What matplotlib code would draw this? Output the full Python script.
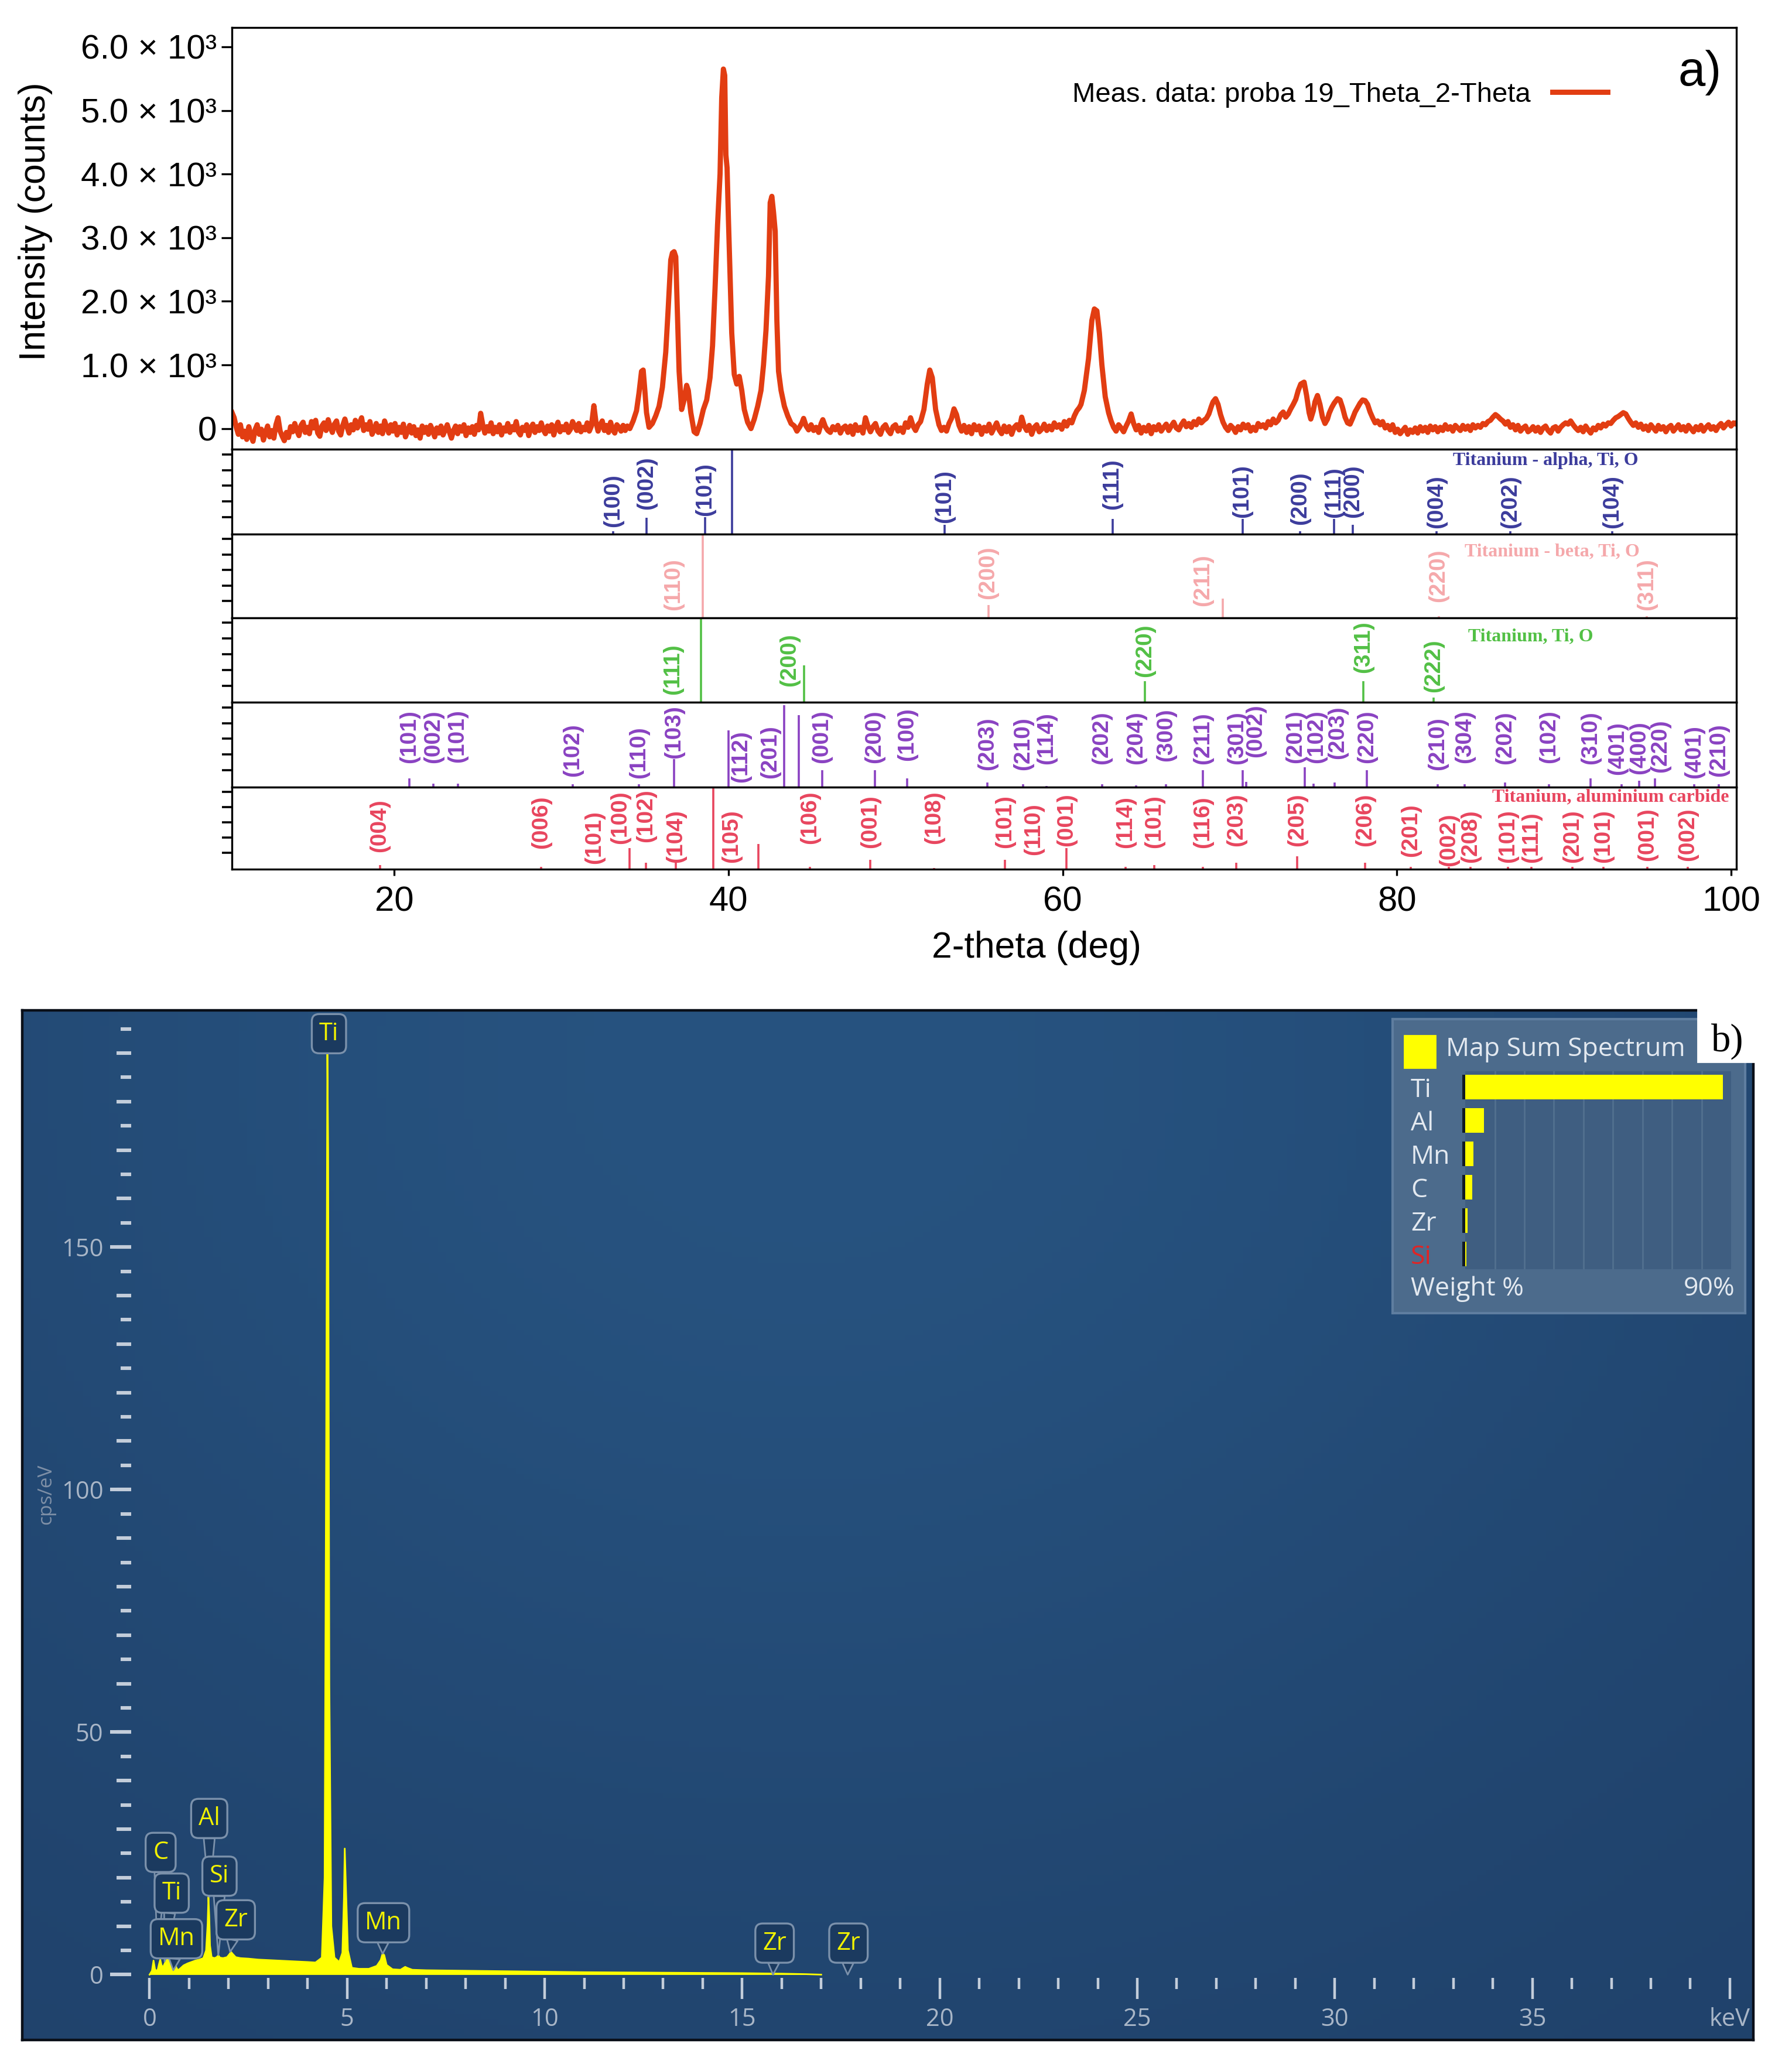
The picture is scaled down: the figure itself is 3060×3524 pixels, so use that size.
import matplotlib
matplotlib.use('Agg')
import matplotlib.pyplot as plt
import numpy as np
from matplotlib.patches import Rectangle
from matplotlib.ticker import FixedLocator, NullFormatter

plt.rcParams['font.family'] = ['Liberation Sans', 'DejaVu Sans']

# ---------------------------------------------------------------------------
# a) XRD - measured pattern, (2-theta [deg], intensity [counts])
xrd_low_angle = [
    (10.300, 250), (10.425, 170), (10.550, 20), (10.675, -90), (10.800, 60),
    (10.925, -130), (11.050, -40), (11.175, -170), (11.300, 30), (11.425, -110),
    (11.550, -200), (11.675, -20), (11.800, 60), (11.925, -90), (12.050, -10),
    (12.175, -180), (12.300, -60), (12.425, 40), (12.550, -130), (12.675, -30),
    (12.800, -150), (12.925, 60), (13.050, 170), (13.175, -40), (13.300, -120),
    (13.425, -190), (13.550, -60), (13.675, -140), (13.800, 30), (13.925, -50),
    (14.050, 80), (14.175, -30), (14.300, -110), (14.425, 50), (14.550, 100),
    (14.675, -60), (14.800, 20), (14.925, -80), (15.050, 110), (15.175, 10),
    (15.300, 130), (15.425, -70), (15.550, -120), (15.675, 40), (15.800, 90),
    (15.925, -30), (16.050, 140), (16.175, 20), (16.300, -60), (16.425, 70),
    (16.550, 120), (16.675, -40), (16.800, -100), (16.925, 50), (17.050, 150),
    (17.175, 30), (17.300, -70), (17.425, 60), (17.550, -20), (17.675, 130),
    (17.800, 10), (17.925, 90), (18.050, 170), (18.175, -30), (18.300, 60),
    (18.425, -10), (18.550, 110), (18.675, -90), (18.800, -20), (18.925, 80),
    (19.050, -60), (19.175, 40), (19.300, -80), (19.425, 120), (19.550, 20),
    (19.675, -70), (19.800, 60), (19.925, -40), (20.050, 80), (20.175, -100),
    (20.300, 20), (20.425, -60), (20.550, 70), (20.675, -130), (20.800, -40),
    (20.925, 50), (21.050, -70), (21.175, 30), (21.300, -110), (21.425, -20),
    (21.550, -150), (21.675, 40), (21.800, -60), (21.925, 20), (22.050, -90),
    (22.175, 50), (22.300, -30), (22.425, -130), (22.550, 10), (22.675, -70),
    (22.800, 40), (22.925, -100), (23.050, -20), (23.175, 60), (23.300, -50),
    (23.425, -150), (23.550, -30), (23.675, 40), (23.800, -80), (23.925, 30),
    (24.050, -40), (24.175, 60), (24.300, -110), (24.425, 10), (24.550, -60),
    (24.675, 30), (24.800, -90), (24.925, 50), (25.050, -20), (25.175, 240),
    (25.300, 60), (25.425, -70), (25.550, 30), (25.675, -40), (25.800, 90),
    (25.925, -80), (26.050, 20), (26.175, -50), (26.300, 60), (26.425, -100),
    (26.550, 10), (26.675, -40), (26.800, 80), (26.925, -60), (27.050, 30),
    (27.175, -20), (27.300, 110), (27.425, -50), (27.550, -100), (27.675, 20),
    (27.800, -30), (27.925, 60), (28.050, -110), (28.175, 10), (28.300, 70),
    (28.425, -60), (28.550, 30), (28.675, -30), (28.800, 90), (28.925, -20),
    (29.050, -80), (29.175, 40), (29.300, -40), (29.425, 60), (29.550, -100),
    (29.675, 20), (29.800, 100), (29.925, -50), (30.050, 30), (30.175, -20),
    (30.300, 70), (30.425, -60), (30.550, -10), (30.675, 110), (30.800, 40),
    (30.925, -30), (31.050, 80), (31.175, -50), (31.300, 20), (31.425, -20),
    (31.550, 90), (31.675, -40), (31.800, 40), (31.950, 360), (32.075, 100),
    (32.200, -40), (32.325, 60), (32.450, 120), (32.575, -30), (32.700, 50),
    (32.825, -60), (32.950, 100), (33.075, -20), (33.200, -70), (33.325, 60),
    (33.450, 20), (33.575, -40), (33.700, 50), (33.825, -30), (33.950, 40),
]
xrd_main_peaks = [
    (34.10, 0), (34.30, 120), (34.50, 280), (34.65, 560), (34.80, 900),
    (34.90, 920), (35.00, 600), (35.10, 250), (35.25, 20), (35.45, 80),
    (35.65, 200), (35.85, 350), (36.05, 650), (36.25, 1200), (36.40, 1900),
    (36.55, 2650), (36.65, 2760), (36.75, 2780), (36.85, 2700), (36.95, 1800),
    (37.05, 900), (37.20, 300), (37.35, 450), (37.50, 680), (37.60, 600),
    (37.75, 250), (37.95, -50), (38.10, -80), (38.30, 80), (38.50, 300),
    (38.70, 450), (38.90, 800), (39.05, 1300), (39.20, 2200), (39.35, 3200),
    (39.50, 4000), (39.60, 5200), (39.70, 5650), (39.78, 5550), (39.85, 4300),
    (39.92, 4100), (40.00, 3300), (40.10, 2400), (40.20, 1500), (40.35, 850),
    (40.50, 700), (40.65, 820), (40.80, 600), (40.95, 300), (41.15, 100),
    (41.35, 0), (41.55, 150), (41.75, 350), (41.95, 600), (42.10, 1000),
    (42.25, 1550), (42.40, 2400), (42.50, 3550), (42.60, 3650), (42.70, 3400),
    (42.80, 3100), (42.90, 1700), (43.00, 900), (43.15, 600), (43.35, 350),
    (43.55, 200), (43.75, 80), (43.95, 40), (44.10, -40), (44.25, 20),
    (44.40, 90), (44.50, 160), (44.65, 40), (44.80, -20), (44.95, 60),
    (45.10, -30), (45.25, 20), (45.40, -60), (45.55, 80), (45.65, 140),
    (45.80, 30), (45.95, -30), (46.10, -60), (46.25, 30), (46.40, -20),
    (46.55, 50), (46.70, -70), (46.85, 10), (47.00, 40),
]
xrd_high_angle = [
    (47.15, -60), (47.30, 40), (47.45, -90), (47.60, 60), (47.75, -30),
    (47.90, 20), (48.05, -70), (48.20, 170), (48.35, 40), (48.50, -50),
    (48.65, 30), (48.80, 80), (48.95, -40), (49.10, -90), (49.25, 20),
    (49.40, 60), (49.55, -30), (49.70, -80), (49.85, 30), (50.00, 60),
    (50.15, -40), (50.30, 10), (50.45, -60), (50.60, 90), (50.75, 20),
    (50.90, 170), (51.05, 40), (51.20, -30), (51.35, 60), (51.50, 110),
    (51.70, 300), (51.90, 700), (52.05, 920), (52.20, 800), (52.40, 300),
    (52.60, 60), (52.75, -30), (52.90, 20), (53.05, -40), (53.20, 80),
    (53.35, 160), (53.50, 310), (53.65, 220), (53.80, 50), (53.95, -40),
    (54.10, 50), (54.25, -60), (54.40, 30), (54.55, -80), (54.70, 60),
    (54.85, -20), (55.00, 40), (55.15, -90), (55.30, 20), (55.45, -40),
    (55.60, 70), (55.75, -70), (55.90, 10), (56.05, 90), (56.20, -20),
    (56.35, -80), (56.50, 40), (56.65, -50), (56.80, 30), (56.95, -90),
    (57.10, 20), (57.25, 60), (57.40, -20), (57.55, 180), (57.70, 40),
    (57.85, -30), (58.00, 50), (58.15, -90), (58.30, 20), (58.45, 60),
    (58.60, -50), (58.75, -10), (58.90, 70), (59.05, -30), (59.20, 40),
    (59.35, -20), (59.50, 90), (59.65, 20), (59.80, 60), (59.95, -10),
    (60.10, 110), (60.25, 40), (60.40, 130), (60.55, 90), (60.70, 200),
    (60.85, 280), (61.00, 330), (61.10, 380), (61.30, 600), (61.55, 1100),
    (61.75, 1700), (61.90, 1880), (62.05, 1850), (62.20, 1500), (62.35, 1000),
    (62.55, 500), (62.75, 250), (62.90, 120), (63.05, 20), (63.20, -40),
    (63.35, 60), (63.50, 10), (63.65, -50), (63.80, 40), (63.95, 120),
    (64.10, 230), (64.25, 80), (64.40, -20), (64.55, 50), (64.70, -70),
    (64.85, 20), (65.00, -40), (65.15, 50), (65.30, -80), (65.45, 30),
    (65.60, -20), (65.75, 60), (65.90, -40), (66.05, 20), (66.20, 70),
    (66.35, -30), (66.50, 40), (66.65, 100), (66.80, 10), (66.95, -20),
    (67.10, 60), (67.25, 120), (67.40, 30), (67.55, 80), (67.70, 20),
    (67.85, 110), (68.00, 60), (68.15, 150), (68.30, 90), (68.45, 130),
    (68.60, 160), (68.75, 230), (68.90, 350), (69.00, 420), (69.15, 470),
    (69.30, 380), (69.45, 220), (69.60, 100), (69.75, 20), (69.90, -30),
    (70.05, 50), (70.20, 10), (70.35, -60), (70.50, 30), (70.65, -20),
    (70.80, 70), (70.95, 10), (71.10, 60), (71.25, -40), (71.40, 20),
    (71.55, -30), (71.70, 80), (71.85, 30), (72.00, 60), (72.15, 10),
    (72.30, 110), (72.45, 60), (72.60, 150), (72.75, 90), (72.90, 130),
    (73.05, 220), (73.20, 260), (73.35, 180), (73.50, 230), (73.65, 310),
    (73.80, 380), (73.95, 460), (74.10, 600), (74.25, 700), (74.45, 730),
    (74.60, 520), (74.75, 250), (74.85, 150), (75.00, 280), (75.10, 420),
    (75.25, 520), (75.40, 380), (75.55, 180), (75.70, 80), (75.85, 150),
    (75.95, 240), (76.10, 330), (76.25, 400), (76.45, 470), (76.60, 450),
    (76.75, 330), (76.90, 180), (77.05, 90), (77.20, 70), (77.35, 160),
    (77.50, 260), (77.65, 330), (77.80, 400), (77.95, 450), (78.10, 440),
    (78.25, 380), (78.40, 260), (78.55, 170), (78.70, 90), (78.85, 120),
    (79.00, 60), (79.15, 110), (79.30, 10), (79.45, 50), (79.60, -20),
    (79.75, 60), (79.90, -60), (80.05, -10), (80.20, -80), (80.35, -30),
    (80.50, 20), (80.65, -90), (80.80, -20), (80.95, -60), (81.10, 10),
    (81.25, -70), (81.40, 30), (81.55, -40), (81.70, 20), (81.85, -60),
    (82.00, 40), (82.15, -20), (82.30, 30), (82.45, -50), (82.60, 20),
    (82.75, -30), (82.90, 60), (83.05, -10), (83.20, 30), (83.35, -40),
    (83.50, 50), (83.65, 10), (83.80, -30), (83.95, 50), (84.10, -10),
    (84.25, 40), (84.40, -30), (84.55, 60), (84.70, 10), (84.85, 50),
    (85.00, 20), (85.15, 80), (85.30, 60), (85.45, 110), (85.60, 130),
    (85.75, 180), (85.90, 220), (86.05, 190), (86.20, 150), (86.35, 120),
    (86.50, 70), (86.65, 110), (86.80, 20), (86.95, 60), (87.10, -20),
    (87.25, 50), (87.40, -40), (87.55, 10), (87.70, 40), (87.85, -50),
    (88.00, -20), (88.15, 30), (88.30, -40), (88.45, 20), (88.60, -60),
    (88.75, 10), (88.90, 40), (89.05, -30), (89.20, -70), (89.35, 10),
    (89.50, 30), (89.65, -40), (89.80, 20), (89.95, 60), (90.10, 90),
    (90.25, 70), (90.40, 120), (90.55, 60), (90.70, 10), (90.85, -30),
    (91.00, 20), (91.15, -50), (91.30, 40), (91.45, -20), (91.60, -70),
    (91.75, 10), (91.90, -20), (92.05, 50), (92.20, 10), (92.35, 70),
    (92.50, 40), (92.65, 90), (92.80, 80), (92.95, 130), (93.10, 170),
    (93.25, 190), (93.40, 220), (93.55, 250), (93.70, 230), (93.85, 160),
    (94.00, 100), (94.15, 50), (94.30, 90), (94.45, 20), (94.60, 70),
    (94.75, -10), (94.90, 40), (95.05, -30), (95.20, 60), (95.35, 10),
    (95.50, -40), (95.65, 50), (95.80, -10), (95.95, 30), (96.10, -50),
    (96.25, 20), (96.40, 50), (96.55, -40), (96.70, 10), (96.85, 60),
    (97.00, -20), (97.15, 30), (97.30, -40), (97.45, 50), (97.60, 0),
    (97.75, -50), (97.90, 30), (98.05, -20), (98.20, 50), (98.35, -40),
    (98.50, 20), (98.65, 60), (98.80, -10), (98.95, 30), (99.10, -30),
    (99.25, 40), (99.40, 80), (99.55, 10), (99.70, 60), (99.85, 100),
    (100.00, 40), (100.15, 90), (100.30, 70), (100.40, 110),
]
xrd_legend = 'Meas. data: proba 19_Theta_2-Theta'

# a) XRD - reference phases: stick position, relative height, hkl label
alpha_name = 'Titanium - alpha, Ti, O'
alpha_pos = [33.1, 35.1, 38.6, 40.2, 52.95, 62.98, 70.76, 74.2, 76.24, 77.36,
             82.38, 86.79, 92.9]
alpha_int = [0.03, 0.19, 0.20, 1.00, 0.11, 0.18, 0.18, 0.03, 0.18, 0.11,
             0.03, 0.03, 0.03]
alpha_hkl = ['(100)', '(002)', '(101)', '', '(101)', '(111)', '(101)', '(200)',
             '(111)', '(200)', '(004)', '(202)', '(104)']

beta_name = 'Titanium - beta, Ti, O'
beta_pos = [38.45, 55.55, 69.57, 82.5, 94.95]
beta_int = [1.00, 0.15, 0.23, 0.02, 0.02]
beta_hkl = ['(110)', '(200)', '(211)', '(220)', '(311)']

ti_name = 'Titanium, Ti, O'
ti_pos = [38.35, 44.54, 64.94, 78.0, 82.2]
ti_int = [1.00, 0.44, 0.25, 0.25, 0.06]
ti_hkl = ['(111)', '(200)', '(220)', '(311)', '(222)']

tial_pos = [20.9, 22.35, 23.8, 30.7, 34.65, 36.75, 40.0, 43.33, 44.22, 45.6,
            48.75, 50.7, 55.5, 57.63, 59.05, 62.35, 64.4, 66.2, 68.4, 70.76,
            71.0, 74.5, 75.0, 76.27, 78.2, 82.46, 84.05, 86.47, 89.12, 91.58,
            93.45, 94.5, 95.45, 97.8, 99.27]
tial_int = [0.10, 0.04, 0.04, 0.03, 0.03, 0.33, 0.67, 0.97, 0.85, 0.20,
            0.20, 0.10, 0.05, 0.03, 0.01, 0.03, 0.02, 0.03, 0.20, 0.20,
            0.06, 0.23, 0.04, 0.05, 0.20, 0.03, 0.03, 0.05, 0.03, 0.10,
            0.03, 0.07, 0.10, 0.03, 0.03]
tial_hkl = ['(101)', '(002)', '(101)', '(102)', '(110)', '(103)', '(112)',
            '(201)', '', '(001)', '(200)', '(100)', '(203)', '(210)', '(114)',
            '(202)', '(204)', '(300)', '(211)', '(301)', '(002)', '(201)',
            '(102)', '(203)', '(220)', '(210)', '(304)', '(202)', '(102)',
            '(310)', '(401)', '(400)', '(220)', '(401)', '(210)']

carb_name = 'Titanium, aluminium carbide'
carb_pos = [19.14, 28.8, 32.0, 34.1, 35.07, 36.84, 39.1, 41.8, 44.87, 48.5,
            52.3, 56.55, 58.26, 60.22, 63.77, 65.5, 68.4, 70.4, 74.04, 78.1,
            80.85, 83.1, 84.4, 86.65, 88.04, 90.5, 92.37, 95.0, 97.4]
carb_int = [0.05, 0.03, 0.01, 0.26, 0.08, 0.08, 0.98, 0.31, 0.03, 0.12,
            0.02, 0.12, 0.01, 0.26, 0.03, 0.05, 0.03, 0.08, 0.16, 0.08,
            0.03, 0.03, 0.03, 0.03, 0.03, 0.03, 0.03, 0.03, 0.03]
carb_hkl = ['(004)', '(006)', '(101)', '(100)', '(102)', '(104)', '(105)', '',
            '(106)', '(001)', '(108)', '(101)', '(110)', '(001)', '(114)',
            '(101)', '(116)', '(203)', '(205)', '(206)', '(201)', '(002)',
            '(208)', '(101)', '(111)', '(201)', '(101)', '(001)', '(002)']

# label placement as in the reference (bottom of label in panel fraction,
# and the few labels that sit beside their stick instead of above it)
alpha_lab_y = [0.08, 0.29, 0.21, 0, 0.13, 0.29, 0.19, 0.11, 0.19, 0.19,
               0.065, 0.065, 0.065]
alpha_lab_x = {}
beta_lab_y = [0.09, 0.22, 0.14, 0.19, 0.09]
beta_lab_x = {0: 36.72, 2: 68.4}
ti_lab_y = [0.09, 0.19, 0.30, 0.35, 0.12]
ti_lab_x = {0: 36.67, 1: 43.64}
tial_lab_y = [0.28, 0.28, 0.29, 0.12, 0.10, 0.34, 0.055, 0.10, 0, 0.28,
              0.28, 0.31, 0.20, 0.20, 0.27, 0.27, 0.27, 0.30, 0.27, 0.27,
              0.35, 0.28, 0.28, 0.33, 0.28, 0.20, 0.28, 0.27, 0.28, 0.27,
              0.14, 0.15, 0.17, 0.10, 0.12]
tial_lab_x = {6: 40.75, 7: 42.5, 19: 70.43, 20: 71.55, 21: 73.95, 22: 75.2,
              23: 76.45, 30: 93.2, 32: 95.75}
carb_lab_y = [0.21, 0.25, 0.07, 0.31, 0.33, 0.08, 0.08, 0, 0.31, 0.26,
              0.31, 0.26, 0.17, 0.28, 0.26, 0.26, 0.26, 0.28, 0.28, 0.28,
              0.15, 0.04, 0.08, 0.08, 0.08, 0.08, 0.08, 0.10, 0.10]
carb_lab_x = {3: 33.53, 6: 40.17}

# ---------------------------------------------------------------------------
# b) EDS - map sum spectrum (keV, cps/eV)
eds_kev = [0.00, 0.06, 0.10, 0.14, 0.20, 0.24, 0.27, 0.30, 0.34, 0.40,
           0.45, 0.50, 0.56, 0.60, 0.64, 0.68, 0.72, 0.78, 0.86, 0.96,
           1.06, 1.16, 1.26, 1.36, 1.43, 1.47, 1.49, 1.51, 1.53, 1.57,
           1.64, 1.70, 1.74, 1.78, 1.86, 1.96, 2.02, 2.06, 2.10, 2.18,
           2.30, 2.50, 2.75, 3.00, 3.25, 3.50, 3.75, 4.00, 4.20, 4.36,
           4.43, 4.47, 4.50, 4.52, 4.55, 4.60, 4.68, 4.80, 4.88, 4.92,
           4.94, 4.97, 5.02, 5.12, 5.30, 5.55, 5.75, 5.85, 5.90, 5.94,
           6.00, 6.15, 6.35, 6.47, 6.52, 6.65, 7.0, 7.5, 8.0, 9.0,
           10.0, 11.0, 12.0, 13.0, 14.0, 15.0, 16.0, 16.6, 17.0]
eds_cps = [0.0, 0.8, 2.9, 1.0, 0.8, 2.2, 3.1, 2.0, 1.5, 2.6,
           3.2, 2.8, 2.2, 2.9, 2.6, 1.4, 0.9, 1.3, 1.9, 2.3,
           2.6, 2.9, 3.1, 3.4, 5.0, 10.5, 16.0, 12.0, 6.0, 3.6,
           3.4, 3.6, 4.0, 3.5, 3.4, 3.6, 4.2, 4.7, 4.3, 3.6,
           3.4, 3.3, 3.1, 3.0, 2.9, 2.8, 2.7, 2.6, 2.5, 3.5,
           20.0, 110.0, 190.0, 170.0, 60.0, 10.0, 3.5, 2.6, 4.5, 16.0,
           26.0, 18.0, 5.0, 1.4, 1.2, 1.2, 1.8, 3.0, 4.4, 4.0,
           2.0, 1.1, 1.0, 1.6, 1.4, 1.0, 0.9, 0.85, 0.8, 0.7,
           0.6, 0.5, 0.45, 0.4, 0.35, 0.3, 0.2, 0.1, 0.0]

# peak markers: element, peak (keV, cps/eV), and where the label box sits
eds_peak_el = ['Ti', 'C', 'Ti', 'Mn', 'Al', 'Si', 'Zr', 'Mn', 'Zr', 'Zr']
eds_peak_kev = [4.51, 0.20, 0.38, 0.60, 1.51, 1.74, 2.04, 5.90, 15.78, 17.67]
eds_peak_cps = [190, 4.0, 2.7, 0.9, 16.0, 4.0, 4.7, 4.3, 0.0, 0.0]
eds_box_kev = [4.54, 0.28, 0.56, 0.68, 1.51, 1.77, 2.18, 5.92, 15.82, 17.69]
eds_box_cps = [194.0, 25.2, 16.8, 7.4, 32.2, 20.3, 11.3, 10.7, 6.5, 6.5]

# quantification panel (weight %)
eds_elements = ['Ti', 'Al', 'Mn', 'C', 'Zr', 'Si']
eds_weight = [87.3, 6.4, 2.7, 2.4, 0.8, 0.4]

# ---------------------------------------------------------------------------
REF_W, REF_H = 1362, 1568      # reference drawn at this size; boxes in its px


def px_box(left, top, right, bottom):
    return [left / REF_W, 1 - bottom / REF_H,
            (right - left) / REF_W, (bottom - top) / REF_H]


XRD_RED = '#e23d12'
ALPHA_C, BETA_C, TI_C = '#3c3c9c', '#f5a8ab', '#52c045'
TIAL_C, CARB_C = '#8a42c2', '#e8455e'
YELLOW = '#ffff00'
EDS_TICK = '#c3cdda'
EDS_TEXT = '#a9b6c7'
UI_FONT = ['Open Sans', 'DejaVu Sans']


def draw_phase(ax, pos, inten, hkl, lab_y, lab_x, color,
               name=None, name_xy=None):
    ax.vlines(pos, 0, inten, color=color, lw=1.3)
    for i, (x, lab) in enumerate(zip(pos, hkl)):
        if not lab:
            continue
        ax.text(lab_x.get(i, x), lab_y[i], lab, rotation=90, ha='center',
                va='bottom', fontsize=14, fontweight='bold', color=color)
    if name:
        ax.text(name_xy[0], name_xy[1], name, ha='center', va='center',
                fontsize=11.5, fontweight='bold', color=color,
                family=['Liberation Serif', 'DejaVu Serif'])
    ax.set_ylim(0, 1)
    ax.yaxis.set_major_locator(FixedLocator([0.2, 0.385, 0.57, 0.755, 0.94]))
    ax.yaxis.set_major_formatter(NullFormatter())
    ax.tick_params(axis='y', direction='out', length=6, width=1.3)
    ax.tick_params(axis='x', bottom=False, labelbottom=False)
    for sp in ax.spines.values():
        sp.set_linewidth(1.2)


fig = plt.figure(figsize=(15.3, 17.62), dpi=200)

# ------------------------------ a) XRD -------------------------------------
xrd = np.array(xrd_low_angle + xrd_main_peaks + xrd_high_angle)
ax = fig.add_axes(px_box(176.4, 21, 1319.5, 341.4))
line, = ax.plot(xrd[:, 0], xrd[:, 1], color=XRD_RED, lw=3.2,
                solid_joinstyle='round')
ax.set_xlim(10.3, 100.3)
ax.set_ylim(-327, 6301)
yt = [0, 1000, 2000, 3000, 4000, 5000, 6000]
ax.set_yticks(yt)
ax.set_yticklabels(['0'] + [f'{v / 1000:.1f} \u00d7 10\u00b3' for v in yt[1:]])
ax.tick_params(axis='y', direction='out', length=6.5, width=1.2,
               labelsize=21, pad=3)
ax.tick_params(axis='x', bottom=False, labelbottom=False)
for sp in ax.spines.values():
    sp.set_linewidth(1.2)
ax.set_ylabel('Intensity (counts)', fontsize=22.5, va='center')
ax.yaxis.set_label_coords(-0.1307, 0.541)
ax.legend([line], [xrd_legend], loc='center right',
          bbox_to_anchor=(0.9147, 0.8408), frameon=False, markerfirst=False,
          handlelength=2.0, handletextpad=0.8, fontsize=17, borderpad=0,
          borderaxespad=0)
ax.text(0.976, 0.894, 'a)', transform=ax.transAxes, fontsize=30,
        ha='center', va='center')

edges = [341.4, 405.6, 469.3, 533.7, 597.8, 660.5]
phase_axes = [fig.add_axes(px_box(176.4, edges[i], 1319.5, edges[i + 1]),
                           sharex=ax) for i in range(5)]
draw_phase(phase_axes[0], alpha_pos, alpha_int, alpha_hkl, alpha_lab_y,
           alpha_lab_x, ALPHA_C, alpha_name, (88.9, 0.87))
draw_phase(phase_axes[1], beta_pos, beta_int, beta_hkl, beta_lab_y,
           beta_lab_x, BETA_C, beta_name, (89.3, 0.79))
draw_phase(phase_axes[2], ti_pos, ti_int, ti_hkl, ti_lab_y, ti_lab_x,
           TI_C, ti_name, (88.0, 0.78))
draw_phase(phase_axes[3], tial_pos, tial_int, tial_hkl, tial_lab_y,
           tial_lab_x, TIAL_C)
draw_phase(phase_axes[4], carb_pos, carb_int, carb_hkl, carb_lab_y,
           carb_lab_x, CARB_C, carb_name, (92.8, 0.875))

axb = phase_axes[-1]
axb.set_xticks([20, 40, 60, 80, 100])
axb.tick_params(axis='x', bottom=True, labelbottom=True, direction='out',
                length=4, width=1.2, labelsize=21.5, pad=6)
axb.set_xlabel('2-theta (deg)', fontsize=22.5, va='center')
axb.xaxis.set_label_coords(0.535, -0.95)

# ------------------------------ b) EDS -------------------------------------
eds_rect = px_box(17, 767.6, 1332.8, 1549.7)
ax_bg = fig.add_axes(eds_rect)
gy, gx = np.mgrid[0:1:200j, 0:1:200j]
glow = np.exp(-((gx - 0.45) ** 2 / 0.35 + (gy - 0.95) ** 2 / 0.7))
edge_c = np.array([0x1f, 0x40, 0x69]) / 255
centre_c = np.array([0x27, 0x53, 0x80]) / 255
ax_bg.imshow(edge_c + (centre_c - edge_c) * glow[..., None],
             extent=[0, 1, 0, 1], aspect='auto', origin='lower')
ax_bg.set_xticks([])
ax_bg.set_yticks([])
for sp in ax_bg.spines.values():
    sp.set_linewidth(1.6)
    sp.set_color('#0a0f18')

ax_e = fig.add_axes(eds_rect, facecolor='none')
ax_e.set_xlim(-3.22, 40.6)
ax_e.set_ylim(-13.46, 198.8)
for side in ['top', 'right']:
    ax_e.spines[side].set_visible(False)
ax_e.spines['left'].set_position(('data', -0.47))
ax_e.spines['bottom'].set_position(('data', -0.68))
ax_e.spines['left'].set_color('none')
ax_e.spines['bottom'].set_color('none')

ax_e.fill_between(eds_kev, eds_cps, 0, color=YELLOW, lw=0)
ax_e.plot(eds_kev, eds_cps, color=YELLOW, lw=1.0)

ax_e.xaxis.set_major_locator(FixedLocator(list(range(0, 41, 5))))
ax_e.xaxis.set_minor_locator(FixedLocator([v for v in range(0, 41) if v % 5]))
ax_e.set_xticklabels([str(v) for v in range(0, 36, 5)] + ['keV'])
ax_e.tick_params(axis='x', which='major', direction='out', length=13,
                 width=1.6, color=EDS_TICK, labelcolor=EDS_TEXT,
                 labelsize=15, pad=5)
ax_e.tick_params(axis='x', which='minor', direction='out', length=7,
                 width=1.6, color=EDS_TICK)
ax_e.yaxis.set_major_locator(FixedLocator(list(range(10, 200, 10))))
ax_e.yaxis.set_minor_locator(FixedLocator(list(range(5, 200, 10))))
ax_e.yaxis.set_major_formatter(NullFormatter())
ax_e.tick_params(axis='y', which='major', direction='out', length=9,
                 width=2.2, color=EDS_TICK)
ax_e.tick_params(axis='y', which='minor', direction='out', length=6.5,
                 width=2.2, color=EDS_TICK)
for lab in ax_e.get_xticklabels():
    lab.set_family(UI_FONT)
ax_e.set_ylabel('cps/eV', fontsize=12, color='#7f90a7', va='center',
                family=UI_FONT)
ax_e.yaxis.set_label_coords(0.0137, 0.530)

# labelled ticks every 50 cps/eV, longer than the others (own axes, not shared)
ax_y = fig.add_axes(eds_rect, facecolor='none')
ax_y.set_xlim(ax_e.get_xlim())
ax_y.set_ylim(ax_e.get_ylim())
for side in ['top', 'right', 'bottom']:
    ax_y.spines[side].set_visible(False)
ax_y.spines['left'].set_position(('data', -0.47))
ax_y.spines['left'].set_color('none')
ax_y.set_xticks([])
ax_y.set_yticks([0, 50, 100, 150])
ax_y.set_yticklabels(['0', '50', '100', '150'])
ax_y.tick_params(axis='y', direction='out', length=13, width=2.2,
                 color=EDS_TICK, labelcolor=EDS_TEXT, labelsize=15, pad=4)
for lab in ax_y.get_yticklabels():
    lab.set_family(UI_FONT)

box_fc, box_ec = '#1b3a5f', '#7b91ab'
for el, px, py, bx, by in zip(eds_peak_el, eds_peak_kev, eds_peak_cps,
                              eds_box_kev, eds_box_cps):
    ax_y.annotate(el, xy=(px, py), xytext=(bx, by), ha='center',
                  va='center', color='#f2f200', fontsize=15, family=UI_FONT,
                  bbox=dict(boxstyle='round,pad=0.3', fc=box_fc, ec=box_ec,
                            lw=1.2),
                  arrowprops=dict(arrowstyle='wedge,tail_width=0.45',
                                  fc=box_fc, ec=box_ec, lw=1.0,
                                  shrinkA=0, shrinkB=0))

# quantification inset
ax_leg = fig.add_axes(px_box(1058.4, 774, 1326.6, 997.5), facecolor='#4c6b8c')
ax_leg.set_xticks([])
ax_leg.set_yticks([])
for sp in ax_leg.spines.values():
    sp.set_color('#5f7ea0')
    sp.set_linewidth(1.5)
ax_leg.add_patch(Rectangle((0.033, 0.8345), 0.089, 0.1095,
                           transform=ax_leg.transAxes, color=YELLOW))
leg_font = dict(family=UI_FONT, color='#e3e9f0',
                transform=ax_leg.transAxes, va='center')
ax_leg.text(0.151, 0.897, 'Map Sum Spectrum', fontsize=16, **leg_font)
ax_leg.text(0.051, 0.082, 'Weight %', fontsize=16, **leg_font)
ax_leg.text(0.9705, 0.082, '90%', fontsize=16, ha='right', **leg_font)

ax_bar = fig.add_axes(px_box(1113.7, 813.9, 1315.7, 964), facecolor='#3f5e81')
rows = np.arange(len(eds_elements))
ax_bar.barh(rows, eds_weight, height=0.75, color=YELLOW, zorder=2)
ax_bar.barh(rows, 1.0, left=-1.0, height=0.75, color='#111a24',
            clip_on=False, zorder=3)
ax_bar.set_xlim(0, 90)
ax_bar.set_ylim(len(eds_elements) - 0.55, -0.47)
ax_bar.set_xticks(list(range(10, 90, 10)))
ax_bar.grid(axis='x', color='#52708f', lw=1.0, zorder=1)
ax_bar.set_axisbelow(True)
ax_bar.tick_params(axis='x', length=0, labelbottom=False)
ax_bar.set_yticks(rows)
ax_bar.set_yticklabels(eds_elements)
ax_bar.tick_params(axis='y', length=0, pad=33.5, labelsize=16,
                   labelcolor='#e3e9f0')
for lab in ax_bar.get_yticklabels():
    lab.set_ha('left')
    lab.set_family(UI_FONT)
    if lab.get_text() == 'Si':
        lab.set_color('#e02424')
for sp in ax_bar.spines.values():
    sp.set_visible(False)

# white corner notch carrying the panel letter
nl, nb, nw, nh = px_box(1290.5, 760, 1345, 806.7)
fig.add_artist(Rectangle((nl, nb), nw, nh, transform=fig.transFigure,
                         color='white', zorder=10))
fig.text(1313 / REF_W, 1 - 791 / REF_H, 'b)', fontsize=24, ha='center',
         va='center', family=['Liberation Serif', 'DejaVu Serif'], zorder=11)

fig.savefig('out.png', dpi=200)
